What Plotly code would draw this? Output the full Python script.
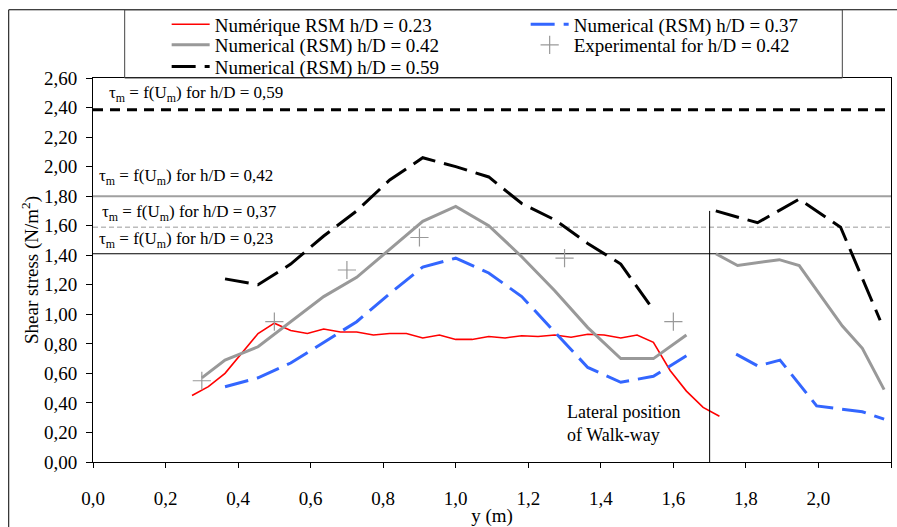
import plotly.graph_objects as go

# ---------------- data ----------------
red_x = [0.273, 0.318, 0.364, 0.409, 0.455, 0.500, 0.545, 0.591, 0.636, 0.682, 0.727,
         0.773, 0.818, 0.864, 0.909, 0.955, 1.000, 1.045, 1.091, 1.136, 1.182, 1.227,
         1.273, 1.318, 1.364, 1.409, 1.455, 1.500, 1.545, 1.591, 1.636, 1.682, 1.727]
red_y = [0.45, 0.51, 0.60, 0.73, 0.87, 0.94, 0.89, 0.87, 0.90, 0.88, 0.88,
         0.86, 0.87, 0.87, 0.84, 0.86, 0.83, 0.83, 0.85, 0.84, 0.855, 0.85,
         0.86, 0.845, 0.865, 0.86, 0.84, 0.86, 0.81, 0.62, 0.48, 0.37, 0.31]

blue_x = [0.364, 0.455, 0.545, 0.636, 0.727, 0.818, 0.909, 1.000, 1.091, 1.182, 1.273,
          1.364, 1.455, 1.545, 1.636, None, 1.773, 1.833, 1.894, 1.995, 2.121, 2.181]
blue_y = [0.51, 0.57, 0.67, 0.81, 0.95, 1.14, 1.32, 1.38, 1.28, 1.12, 0.88,
          0.64, 0.54, 0.58, 0.72, None, 0.73, 0.65, 0.69, 0.38, 0.34, 0.29]

gray_x = [0.30, 0.364, 0.455, 0.545, 0.636, 0.727, 0.818, 0.909, 1.000, 1.091, 1.182,
          1.273, 1.364, 1.455, 1.545, 1.636, None, 1.717, 1.777, 1.892, 1.947, 2.002,
          2.066, 2.121, 2.181]
gray_y = [0.57, 0.69, 0.78, 0.95, 1.12, 1.25, 1.44, 1.63, 1.73, 1.60, 1.39,
          1.16, 0.91, 0.70, 0.70, 0.86, None, 1.41, 1.33, 1.37, 1.33, 1.14,
          0.92, 0.77, 0.49]

black_x = [0.364, 0.455, 0.545, 0.636, 0.727, 0.818, 0.909, 1.000, 1.091, 1.182, 1.273,
           1.364, 1.455, 1.545, None, 1.717, 1.832, 1.947, 2.061, 2.170]
black_y = [1.24, 1.20, 1.34, 1.53, 1.70, 1.91, 2.06, 2.00, 1.93, 1.75, 1.64,
           1.48, 1.34, 1.03, None, 1.70, 1.62, 1.78, 1.59, 0.96]

exp_x = [0.3, 0.5, 0.7, 0.9, 1.3, 1.6]
exp_y = [0.55, 0.95, 1.30, 1.52, 1.38, 0.95]

# reference levels tau_m = f(U_m)
ref_labels = ["0,59", "0,42", "0,37", "0,23"]
ref_values = [2.385, 1.80, 1.59, 1.41]

walkway_x = 1.70
walkway_top = 1.70

x_tickvals = [0.0, 0.2, 0.4, 0.6, 0.8, 1.0, 1.2, 1.4, 1.6, 1.8, 2.0, 2.2]
x_ticktext = ["0,0", "0,2", "0,4", "0,6", "0,8", "1,0", "1,2", "1,4", "1,6", "1,8", "2,0", "2,2"]
y_tickvals = [0.0, 0.2, 0.4, 0.6, 0.8, 1.0, 1.2, 1.4, 1.6, 1.8, 2.0, 2.2, 2.4, 2.6]
y_ticktext = ["0,00", "0,20", "0,40", "0,60", "0,80", "1,00", "1,20", "1,40", "1,60",
              "1,80", "2,00", "2,20", "2,40", "2,60"]

FONT = "Liberation Serif"
BLUE = "#3366FF"
GRAY = "#999999"
DASH = "24px,9px"

fig = go.Figure()
fig.add_trace(go.Scatter(x=red_x, y=red_y, mode="lines", name="Numérique RSM h/D = 0.23",
                         line=dict(color="#FF0000", width=1.6), legend="legend"))
fig.add_trace(go.Scatter(x=blue_x, y=blue_y, mode="lines", name="Numerical (RSM) h/D = 0.37",
                         line=dict(color=BLUE, width=3, dash=DASH), legend="legend"))
fig.add_trace(go.Scatter(x=gray_x, y=gray_y, mode="lines", name="Numerical (RSM) h/D = 0.42",
                         line=dict(color=GRAY, width=3), legend="legend2"))
fig.add_trace(go.Scatter(x=exp_x, y=exp_y, mode="markers", name="Experimental for h/D = 0.42",
                         marker=dict(symbol="cross-thin-open", size=13,
                                     line=dict(color=GRAY, width=1.2), color=GRAY),
                         legend="legend2"))
fig.add_trace(go.Scatter(x=black_x, y=black_y, mode="lines", name="Numerical (RSM) h/D = 0.59",
                         line=dict(color="black", width=3, dash=DASH), legend="legend3"))

ref_styles = [dict(color="black", width=3, dash="10px,7px"),
              dict(color="#A0A0A0", width=2),
              dict(color="#999999", width=1, dash="5px,3px"),
              dict(color="black", width=1)]
ref_text_x = [0.038, 0.012, 0.02, 0.012]
ref_text_y = [2.49, 1.93, 1.683, 1.506]

shapes = []
annotations = []
for lab, val, st, tx, ty in zip(ref_labels, ref_values, ref_styles, ref_text_x, ref_text_y):
    shapes.append(dict(type="line", xref="paper", yref="y", x0=0, x1=1, y0=val, y1=val,
                       line=st, layer="below"))
    annotations.append(dict(x=tx, y=ty, xref="x", yref="y", xanchor="left", yanchor="middle",
                            showarrow=False,
                            text="τ<sub>m</sub> = f(U<sub>m</sub>) for h/D = " + lab,
                            font=dict(family=FONT, size=17, color="black")))

# walk-way vertical line
shapes.append(dict(type="line", xref="x", yref="y", x0=walkway_x, x1=walkway_x, y0=0,
                   y1=walkway_top, line=dict(color="black", width=1)))
annotations.append(dict(x=1.30, y=0.262, xref="x", yref="y", xanchor="left", yanchor="middle",
                        align="left", showarrow=False, text="Lateral position<br>of Walk-way",
                        font=dict(family=FONT, size=18, color="black")))

# outer frame and legend box
shapes.append(dict(type="rect", xref="paper", yref="paper", x0=-0.1056, x1=1.2, y0=-0.3,
                   y1=1.1777, line=dict(color="black", width=1), layer="above"))
shapes.append(dict(type="rect", xref="paper", yref="paper", x0=0.0397, x1=0.939, y0=1.0,
                   y1=1.1777, line=dict(color="#444444", width=1), layer="above"))


def leg(yc):
    return dict(orientation="h", x=0.0923, y=yc, xanchor="left", yanchor="middle",
                bgcolor="rgba(0,0,0,0)", borderwidth=0, itemwidth=38,
                entrywidth=306, entrywidthmode="pixels", traceorder="normal",
                font=dict(family=FONT, size=19, color="black"))


fig.update_layout(
    width=897, height=527,
    margin=dict(l=93, r=5, t=77, b=58),
    paper_bgcolor="white", plot_bgcolor="white",
    font=dict(family=FONT, size=18, color="black"),
    showlegend=True,
    legend=leg(1.1394),
    legend2=leg(1.0859),
    legend3=leg(1.0298),
    xaxis=dict(range=[0, 2.2], tickvals=x_tickvals, ticktext=x_ticktext,
               showgrid=False, zeroline=False, showline=True, linecolor="black", linewidth=1,
               mirror=True, ticks="outside", ticklen=5, tickcolor="black",
               ticklabelstandoff=14, tickfont=dict(family=FONT, size=19),
               title=dict(text="y (m)", font=dict(family=FONT, size=19), standoff=0)),
    yaxis=dict(range=[0, 2.6], tickvals=y_tickvals, ticktext=y_ticktext,
               showgrid=False, zeroline=False, showline=True, linecolor="black", linewidth=1,
               mirror=True, ticks="outside", ticklen=6, tickcolor="black",
               ticklabelstandoff=5, tickfont=dict(family=FONT, size=19),
               title=dict(text="Shear stress (N/m<sup>2</sup>)", font=dict(family=FONT, size=19),
                          standoff=0)),
    shapes=shapes,
    annotations=annotations,
)

fig.write_html("out.html")
